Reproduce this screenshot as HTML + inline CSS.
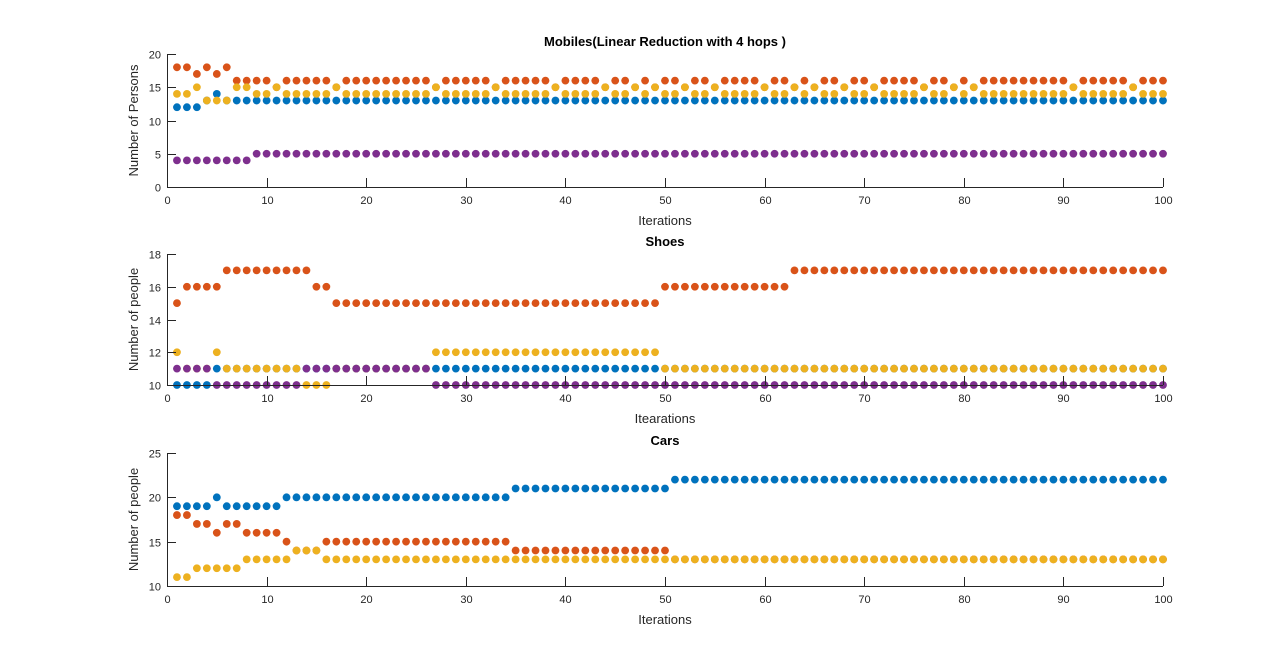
<!DOCTYPE html>
<html><head><meta charset="utf-8"><style>
html,body{margin:0;padding:0;background:#fff;}
svg{display:block;font-family:"Liberation Sans",Arial,sans-serif;}
</style></head><body>
<svg id="fig" width="1285" height="666"></svg>
<script>
const xValues=[1,2,3,4,5,6,7,8,9,10,11,12,13,14,15,16,17,18,19,20,21,22,23,24,25,26,27,28,29,30,31,32,33,34,35,36,37,38,39,40,41,42,43,44,45,46,47,48,49,50,51,52,53,54,55,56,57,58,59,60,61,62,63,64,65,66,67,68,69,70,71,72,73,74,75,76,77,78,79,80,81,82,83,84,85,86,87,88,89,90,91,92,93,94,95,96,97,98,99,100];
const xTicks=[0,10,20,30,40,50,60,70,80,90,100];
const mobBlue=[12,12,12,13,14,13,13,13,13,13,13,13,13,13,13,13,13,13,13,13,13,13,13,13,13,13,13,13,13,13,13,13,13,13,13,13,13,13,13,13,13,13,13,13,13,13,13,13,13,13,13,13,13,13,13,13,13,13,13,13,13,13,13,13,13,13,13,13,13,13,13,13,13,13,13,13,13,13,13,13,13,13,13,13,13,13,13,13,13,13,13,13,13,13,13,13,13,13,13,13];
const mobOrange=[18,18,17,18,17,18,16,16,16,16,15,16,16,16,16,16,15,16,16,16,16,16,16,16,16,16,15,16,16,16,16,16,15,16,16,16,16,16,15,16,16,16,16,15,16,16,15,16,15,16,16,15,16,16,15,16,16,16,16,15,16,16,15,16,15,16,16,15,16,16,15,16,16,16,16,15,16,16,15,16,15,16,16,16,16,16,16,16,16,16,15,16,16,16,16,16,15,16,16,16];
const mobYellow=[14,14,15,13,13,13,15,15,14,14,15,14,14,14,14,14,15,14,14,14,14,14,14,14,14,14,15,14,14,14,14,14,15,14,14,14,14,14,15,14,14,14,14,15,14,14,15,14,15,14,14,15,14,14,15,14,14,14,14,15,14,14,15,14,15,14,14,15,14,14,15,14,14,14,14,15,14,14,15,14,15,14,14,14,14,14,14,14,14,14,15,14,14,14,14,14,15,14,14,14];
const mobPurple=[4,4,4,4,4,4,4,4,5,5,5,5,5,5,5,5,5,5,5,5,5,5,5,5,5,5,5,5,5,5,5,5,5,5,5,5,5,5,5,5,5,5,5,5,5,5,5,5,5,5,5,5,5,5,5,5,5,5,5,5,5,5,5,5,5,5,5,5,5,5,5,5,5,5,5,5,5,5,5,5,5,5,5,5,5,5,5,5,5,5,5,5,5,5,5,5,5,5,5,5];
const mobYTicks=[0,5,10,15,20];
const shoeBlue=[10,10,10,10,11,11,11,11,11,11,11,11,11,11,11,11,11,11,11,11,11,11,11,11,11,11,11,11,11,11,11,11,11,11,11,11,11,11,11,11,11,11,11,11,11,11,11,11,11,11,11,11,11,11,11,11,11,11,11,11,11,11,11,11,11,11,11,11,11,11,11,11,11,11,11,11,11,11,11,11,11,11,11,11,11,11,11,11,11,11,11,11,11,11,11,11,11,11,11,11];
const shoeOrange=[15,16,16,16,16,17,17,17,17,17,17,17,17,17,16,16,15,15,15,15,15,15,15,15,15,15,15,15,15,15,15,15,15,15,15,15,15,15,15,15,15,15,15,15,15,15,15,15,15,16,16,16,16,16,16,16,16,16,16,16,16,16,17,17,17,17,17,17,17,17,17,17,17,17,17,17,17,17,17,17,17,17,17,17,17,17,17,17,17,17,17,17,17,17,17,17,17,17,17,17];
const shoeYellow=[12,11,11,11,12,11,11,11,11,11,11,11,11,10,10,10,11,11,11,11,11,11,11,11,11,11,12,12,12,12,12,12,12,12,12,12,12,12,12,12,12,12,12,12,12,12,12,12,12,11,11,11,11,11,11,11,11,11,11,11,11,11,11,11,11,11,11,11,11,11,11,11,11,11,11,11,11,11,11,11,11,11,11,11,11,11,11,11,11,11,11,11,11,11,11,11,11,11,11,11];
const shoePurple=[11,11,11,11,10,10,10,10,10,10,10,10,10,11,11,11,11,11,11,11,11,11,11,11,11,11,10,10,10,10,10,10,10,10,10,10,10,10,10,10,10,10,10,10,10,10,10,10,10,10,10,10,10,10,10,10,10,10,10,10,10,10,10,10,10,10,10,10,10,10,10,10,10,10,10,10,10,10,10,10,10,10,10,10,10,10,10,10,10,10,10,10,10,10,10,10,10,10,10,10];
const shoeYTicks=[10,12,14,16,18];
const carBlue=[19,19,19,19,20,19,19,19,19,19,19,20,20,20,20,20,20,20,20,20,20,20,20,20,20,20,20,20,20,20,20,20,20,20,21,21,21,21,21,21,21,21,21,21,21,21,21,21,21,21,22,22,22,22,22,22,22,22,22,22,22,22,22,22,22,22,22,22,22,22,22,22,22,22,22,22,22,22,22,22,22,22,22,22,22,22,22,22,22,22,22,22,22,22,22,22,22,22,22,22];
const carOrange=[18,18,17,17,16,17,17,16,16,16,16,15,14,14,14,15,15,15,15,15,15,15,15,15,15,15,15,15,15,15,15,15,15,15,14,14,14,14,14,14,14,14,14,14,14,14,14,14,14,14,13,13,13,13,13,13,13,13,13,13,13,13,13,13,13,13,13,13,13,13,13,13,13,13,13,13,13,13,13,13,13,13,13,13,13,13,13,13,13,13,13,13,13,13,13,13,13,13,13,13];
const carYellow=[11,11,12,12,12,12,12,13,13,13,13,13,14,14,14,13,13,13,13,13,13,13,13,13,13,13,13,13,13,13,13,13,13,13,13,13,13,13,13,13,13,13,13,13,13,13,13,13,13,13,13,13,13,13,13,13,13,13,13,13,13,13,13,13,13,13,13,13,13,13,13,13,13,13,13,13,13,13,13,13,13,13,13,13,13,13,13,13,13,13,13,13,13,13,13,13,13,13,13,13];
const carYTicks=[10,15,20,25];

const NS='http://www.w3.org/2000/svg';
const svg=document.getElementById('fig');
const C={blue:'#0072BD',orange:'#D95319',yellow:'#EDB120',purple:'#7E2F8E'};
const X0=167,X1=1163;
function mk(tag,attrs,parent,text){const e=document.createElementNS(NS,tag);for(const k in attrs)e.setAttribute(k,attrs[k]);if(text!==undefined)e.textContent=text;(parent||svg).appendChild(e);return e;}
function sx(v){return X0+(v-0)/(100-0)*(X1-X0);}
function panel(p){
  const g=mk('g',{});
  
  
  const sy=v=>p.bot-(v-p.ymin)/(p.ymax-p.ymin)*(p.bot-p.top);
  p.series.forEach(s=>{
    const sg=mk('g',{},g);
    
    
    s.data.forEach((v,i)=>{
      const c=mk('circle',{cx:sx(xValues[i]),cy:sy(v),r:3.9,fill:s.color},sg);
      
      
    });
  });
  const ax=mk('g',{stroke:'#262626','stroke-width':1,fill:'none'},g);
  
  
  mk('line',{x1:X0,y1:p.bot+0.5,x2:X1,y2:p.bot+0.5},ax);
  mk('line',{x1:X0+0.5,y1:p.top,x2:X0+0.5,y2:p.bot},ax);
  xTicks.forEach(t=>{
    const x=Math.round(sx(t))+0.5;
    mk('line',{x1:x,y1:p.bot,x2:x,y2:p.bot-9},ax);
    const tl=mk('text',{x:x,y:p.bot+17,'text-anchor':'middle','font-size':11,fill:'#262626'},g,String(t));
    
    
  });
  p.yt.forEach(t=>{
    const y=Math.round(sy(t))+0.5;
    mk('line',{x1:X0,y1:y,x2:X0+9,y2:y},ax);
    const tl=mk('text',{x:X0-6,y:y+4,'text-anchor':'end','font-size':11,fill:'#262626'},g,String(t));
    
    
  });
  const ti=mk('text',{x:(X0+X1)/2,y:p.top-8,'text-anchor':'middle','font-size':13,'font-weight':'bold',fill:'#000'},g,p.title);
  
  
  const xl=mk('text',{x:(X0+X1)/2,y:p.bot+38,'text-anchor':'middle','font-size':13,fill:'#262626'},g,p.xlabel);
  
  
  const cy=(p.top+p.bot)/2;
  const yl=mk('text',{x:138,y:cy,'text-anchor':'middle','font-size':13,fill:'#262626',transform:'rotate(-90 138 '+cy+')'},g,p.ylabel);
  
  
}
panel({name:'mobiles-chart',top:54,bot:187,ymin:0,ymax:20,yt:mobYTicks,title:'Mobiles(Linear Reduction with 4 hops )',xlabel:'Iterations',ylabel:'Number of Persons',
  series:[{name:'series-blue',data:mobBlue,color:C.blue},{name:'series-orange',data:mobOrange,color:C.orange},{name:'series-yellow',data:mobYellow,color:C.yellow},{name:'series-purple',data:mobPurple,color:C.purple}]});
panel({name:'shoes-chart',top:254,bot:385,ymin:10,ymax:18,yt:shoeYTicks,title:'Shoes',xlabel:'Itearations',ylabel:'Number of people',
  series:[{name:'series-blue',data:shoeBlue,color:C.blue},{name:'series-orange',data:shoeOrange,color:C.orange},{name:'series-yellow',data:shoeYellow,color:C.yellow},{name:'series-purple',data:shoePurple,color:C.purple}]});
panel({name:'cars-chart',top:453,bot:586,ymin:10,ymax:25,yt:carYTicks,title:'Cars',xlabel:'Iterations',ylabel:'Number of people',
  series:[{name:'series-blue',data:carBlue,color:C.blue},{name:'series-orange',data:carOrange,color:C.orange},{name:'series-yellow',data:carYellow,color:C.yellow}]});
</script>
</body></html>
